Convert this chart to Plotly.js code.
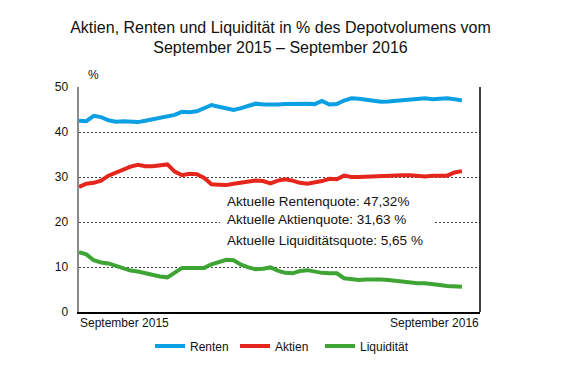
<!DOCTYPE html>
<html>
<head>
<meta charset="utf-8">
<script src="https://cdn.plot.ly/plotly-3.0.1.min.js"></script>
<style>html,body{margin:0;padding:0;background:#fff;}#chart{width:561px;height:384px;}</style>
</head>
<body>
<div id="chart"></div>
<script>
// Weekly observation dates (Sept 2015 – Sept 2016)
var weeks = [
  '2015-09-04','2015-09-11','2015-09-18','2015-09-25','2015-10-02','2015-10-09','2015-10-16','2015-10-23','2015-10-30',
  '2015-11-06','2015-11-13','2015-11-20','2015-11-27','2015-12-04','2015-12-11','2015-12-18','2015-12-25',
  '2016-01-01','2016-01-08','2016-01-15','2016-01-22','2016-01-29','2016-02-05','2016-02-12','2016-02-19','2016-02-26',
  '2016-03-04','2016-03-11','2016-03-18','2016-03-25','2016-04-01','2016-04-08','2016-04-15','2016-04-22','2016-04-29',
  '2016-05-06','2016-05-13','2016-05-20','2016-05-27','2016-06-03','2016-06-10','2016-06-17','2016-06-24',
  '2016-07-01','2016-07-08','2016-07-15','2016-07-22','2016-07-29','2016-08-05','2016-08-12','2016-08-19','2016-08-26',
  '2016-09-02'
];
var renten = [42.5, 42.4, 43.6, 43.3, 42.6, 42.3, 42.4, 42.3, 42.2, 42.5, 42.8, 43.0, 43.3, 43.8, 44.5, 44.4, 44.6,
  45.2, 46.0, 45.6, 45.2, 44.9, 45.3, 45.7, 46.3, 46.1, 46.0, 46.1, 46.2, 46.3, 46.4, 46.3, 46.2, 46.9, 46.1,
  46.2, 47.0, 47.5, 47.4, 47.1, 46.9, 46.7, 46.8, 46.9, 47.0, 47.2, 47.4, 47.5, 47.3, 47.4, 47.5, 47.3, 47.0];
var aktien = [27.8, 28.5, 28.7, 29.2, 30.3, 31.0, 31.6, 32.3, 32.7, 32.4, 32.4, 32.7, 32.8, 31.2, 30.4, 30.7, 30.6,
  29.8, 28.4, 28.3, 28.2, 28.5, 28.8, 29.0, 29.2, 29.1, 28.6, 29.2, 29.5, 29.2, 28.7, 28.5, 28.7, 29.1, 29.6,
  29.5, 30.3, 30.0, 30.0, 30.1, 30.0, 30.1, 30.4, 30.4, 30.4, 30.4, 30.3, 30.1, 30.3, 30.4, 30.3, 31.0, 31.3];
var liquiditaet = [13.3, 12.8, 11.5, 11.0, 10.8, 10.3, 9.7, 9.2, 9.0, 8.6, 8.2, 7.9, 7.7, 8.8, 9.8, 9.8, 9.8,
  9.8, 10.6, 11.0, 11.6, 11.5, 10.5, 9.9, 9.5, 9.6, 9.9, 9.2, 8.7, 8.6, 9.1, 9.3, 8.9, 8.7, 8.6,
  8.6, 7.5, 7.3, 7.1, 7.2, 7.3, 7.2, 7.1, 6.9, 6.7, 6.5, 6.4, 6.4, 6.3, 6.0, 5.8, 5.7, 5.6];
var seriesNames = ['Renten', 'Aktien', 'Liquidität'];
var seriesColors = ['#0b9fe3', '#e5261d', '#3ea535'];
var xLabels = ['September 2015', 'September 2016'];
var statLines = ['Aktuelle Rentenquote: 47,32%', 'Aktuelle Aktienquote: 31,63 %', 'Aktuelle Liquiditätsquote: 5,65 %'];
var titleLines = ['Aktien, Renten und Liquidität in % des Depotvolumens vom', 'September 2015 – September 2016'];

var FONT = 'Liberation Sans, Arial, sans-serif';
var seriesData = [renten, aktien, liquiditaet];
var legendWidths = [40, 40, 60];
var traces = seriesData.map(function (vals, i) {
  return {
    x: weeks, y: vals, type: 'scatter', mode: 'lines', name: seriesNames[i], legendwidth: legendWidths[i],
    line: {color: seriesColors[i], width: 4, shape: 'linear'}
  };
});

var statY = [0.493, 0.409, 0.32];
var annotations = [
  {text: '%', xref: 'paper', yref: 'paper', x: 0.035, y: 1.053, xanchor: 'center', yanchor: 'middle', showarrow: false,
   font: {family: FONT, size: 12, color: '#111'}},
  {text: xLabels[0], xref: 'paper', yref: 'paper', x: 0, y: 0, xanchor: 'left', yanchor: 'top', yshift: -2, xshift: -1,
   showarrow: false, font: {family: FONT, size: 12, color: '#111'}},
  {text: xLabels[1], xref: 'paper', yref: 'paper', x: 1, y: 0, xanchor: 'right', yanchor: 'top', yshift: -2, xshift: 1,
   showarrow: false, font: {family: FONT, size: 12, color: '#111'}}
];
statLines.forEach(function (t, i) {
  annotations.push({text: t, xref: 'paper', yref: 'paper', x: 0.369, y: statY[i], xanchor: 'left', yanchor: 'middle',
    xshift: -2, showarrow: false, font: {family: FONT, size: 13.5, color: '#111'}});
});

var layout = {
  width: 561, height: 384,
  margin: {l: 79, r: 81, t: 87, b: 72, pad: 0},
  paper_bgcolor: '#fff', plot_bgcolor: '#fff',
  font: {family: FONT, size: 12, color: '#111'},
  title: {text: titleLines.join('<br>'), x: 0.5, xanchor: 'center', y: 0.915, yanchor: 'bottom', yref: 'container',
    font: {family: FONT, size: 16, color: '#111'}},
  showlegend: true,
  legend: {orientation: 'h', x: 0.52, xanchor: 'center', y: -0.151, yanchor: 'middle',
    font: {family: FONT, size: 12, color: '#111'}, bgcolor: 'rgba(0,0,0,0)'},
  xaxis: {type: 'date', range: ['2015-09-04', '2016-09-19 05:00'], showgrid: false, zeroline: false,
    showticklabels: false, ticks: '', showline: true, linecolor: '#000', linewidth: 1.5, fixedrange: true},
  yaxis: {range: [0, 50], dtick: 10, tick0: 0, showgrid: true, gridcolor: '#444', griddash: '2px,2px', gridwidth: 1,
    zeroline: false, showline: true, linecolor: '#8a8a8a', linewidth: 2.5, ticks: '', ticklabelstandoff: 6,
    tickfont: {family: FONT, size: 12, color: '#111'}, fixedrange: true},
  shapes: [
    {type: 'rect', xref: 'paper', yref: 'paper', x0: 0.352, x1: 0.883, y0: 0.276, y1: 0.533, layer: 'above',
     fillcolor: '#fff', line: {width: 0}},
    {type: 'line', xref: 'paper', yref: 'paper', x0: 1, x1: 1, y0: 0, y1: 1, line: {color: '#000', width: 1.5}}
  ],
  annotations: annotations
};

Plotly.newPlot('chart', traces, layout, {displayModeBar: false, staticPlot: true});
</script>
</body>
</html>
